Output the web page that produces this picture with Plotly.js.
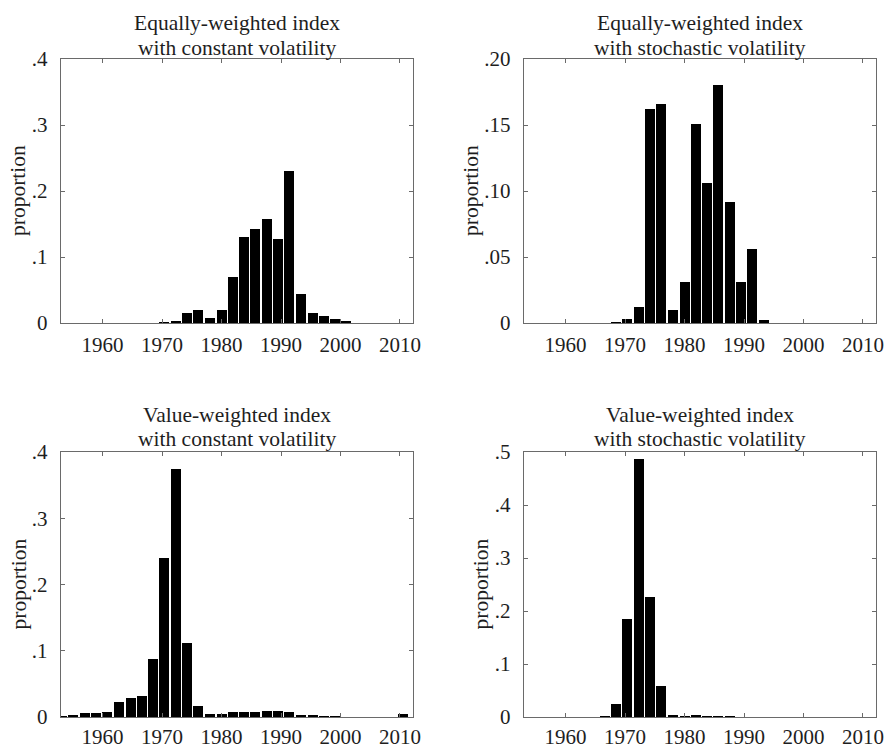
<!DOCTYPE html>
<html>
<head>
<meta charset="utf-8">
<script src="https://cdn.plot.ly/plotly-3.0.1.min.js"></script>
<style>html,body{margin:0;padding:0;background:#fff;}#chart{width:886px;height:748px;}</style>
</head>
<body>
<div id="chart"></div>
<script>
// bin centres (years)
var bins = [1953.2, 1955.1, 1957.0, 1958.9, 1960.8, 1962.8, 1964.7, 1966.6, 1968.5, 1970.4,
            1972.3, 1974.2, 1976.1, 1978.1, 1980.0, 1981.9, 1983.8, 1985.7, 1987.6, 1989.5,
            1991.4, 1993.4, 1995.3, 1997.2, 1999.1, 2001.0, 2002.9, 2004.8, 2006.7, 2008.6, 2010.6];

var ewConst = [0, 0, 0, 0, 0, 0, 0, 0, 0, 0.0008,
               0.003, 0.015, 0.020, 0.008, 0.020, 0.069, 0.131, 0.142, 0.157, 0.127,
               0.231, 0.044, 0.015, 0.011, 0.006, 0.003, 0, 0, 0, 0, 0];

var ewStoch = [0, 0, 0, 0, 0, 0, 0, 0, 0.001, 0.003,
               0.012, 0.162, 0.166, 0.010, 0.031, 0.151, 0.106, 0.180, 0.092, 0.031,
               0.056, 0.002, 0, 0, 0, 0, 0, 0, 0, 0, 0];

var vwConst = [0.002, 0.003, 0.006, 0.006, 0.008, 0.022, 0.028, 0.032, 0.088, 0.240,
               0.374, 0.112, 0.016, 0.005, 0.005, 0.007, 0.008, 0.007, 0.009, 0.009,
               0.007, 0.003, 0.003, 0.002, 0.002, 0, 0, 0, 0, 0, 0.004];

var vwStoch = [0, 0, 0, 0, 0, 0, 0, 0.001, 0.025, 0.184,
               0.487, 0.227, 0.058, 0.003, 0.002, 0.003, 0.002, 0.0015, 0.001, 0,
               0, 0, 0, 0, 0, 0, 0, 0, 0, 0, 0];

var xTickVals = [1960, 1970, 1980, 1990, 2000, 2010];
var xTickText = ["1960", "1970", "1980", "1990", "2000", "2010"];

var yTickVals4 = [0, 0.1, 0.2, 0.3, 0.4];
var yTickText4 = ["0", ".1", ".2", ".3", ".4"];
var yTickVals2 = [0, 0.05, 0.10, 0.15, 0.20];
var yTickText2 = ["0", ".05", ".10", ".15", ".20"];
var yTickVals5 = [0, 0.1, 0.2, 0.3, 0.4, 0.5];
var yTickText5 = ["0", ".1", ".2", ".3", ".4", ".5"];

var titleLine1 = ["Equally-weighted index", "Equally-weighted index",
                  "Value-weighted index", "Value-weighted index"];
var titleLine2 = ["with constant volatility", "with stochastic volatility",
                  "with constant volatility", "with stochastic volatility"];
var yLabel = "proportion";

var W = 886, H = 748;
var FONT = "Liberation Serif, Times New Roman, serif";
var TXT = "#1e1e1e";
var LINE = "#6a6a6a";

var series = [ewConst, ewStoch, vwConst, vwStoch];
var traces = series.map(function (s, i) {
  var n = i === 0 ? "" : String(i + 1);
  return {
    type: "bar", x: bins, y: s, width: 1.68,
    xaxis: "x" + n, yaxis: "y" + n,
    marker: {color: "#000", line: {width: 0}},
    hoverinfo: "x+y", showlegend: false
  };
});

// plot frames in pixels
var colsPx = [[61, 413], [524, 876]];
var rowsPx = [[59, 323], [452, 717]];
// title line centres in pixels from the top, per row
var titleY = [[23.5, 48], [414.5, 439]];
var xStandoff = [2, 0];

function xax(col, row) {
  return {
    domain: [colsPx[col][0] / W, colsPx[col][1] / W],
    range: [1953, 2012.2],
    tickvals: xTickVals, ticktext: xTickText,
    ticks: "inside", ticklen: 4, tickcolor: LINE, tickwidth: 1,
    showline: true, linecolor: LINE, linewidth: 1.3, mirror: "ticks",
    showgrid: false, zeroline: false,
    tickfont: {family: FONT, size: 21, color: TXT},
    ticklabelstandoff: xStandoff[row], fixedrange: true
  };
}
function yax(row, vals, text, top, xname) {
  return {
    domain: [1 - rowsPx[row][1] / H, 1 - rowsPx[row][0] / H],
    range: [0, top], anchor: xname,
    tickvals: vals, ticktext: text,
    ticks: "inside", ticklen: 4, tickcolor: LINE, tickwidth: 1,
    showline: true, linecolor: LINE, linewidth: 1.3, mirror: "ticks",
    showgrid: false, zeroline: false,
    tickfont: {family: FONT, size: 21, color: TXT},
    ticklabelstandoff: 8, fixedrange: true
  };
}

var layout = {
  width: W, height: H,
  margin: {l: 0, r: 0, t: 0, b: 0},
  paper_bgcolor: "#fff", plot_bgcolor: "#fff",
  bargap: 0,
  xaxis: Object.assign(xax(0, 0), {anchor: "y"}),
  yaxis: yax(0, yTickVals4, yTickText4, 0.4, "x"),
  xaxis2: Object.assign(xax(1, 0), {anchor: "y2"}),
  yaxis2: yax(0, yTickVals2, yTickText2, 0.2, "x2"),
  xaxis3: Object.assign(xax(0, 1), {anchor: "y3"}),
  yaxis3: yax(1, yTickVals4, yTickText4, 0.4, "x3"),
  xaxis4: Object.assign(xax(1, 1), {anchor: "y4"}),
  yaxis4: yax(1, yTickVals5, yTickText5, 0.5, "x4"),
  annotations: []
};

var yLabelX = [[18, 471], [18, 480]];
for (var r = 0; r < 2; r++) {
  for (var c = 0; c < 2; c++) {
    var idx = r * 2 + c;
    var cx = (colsPx[c][0] + colsPx[c][1]) / 2;
    [titleLine1[idx], titleLine2[idx]].forEach(function (t, li) {
      layout.annotations.push({
        text: t, xref: "paper", yref: "paper",
        x: cx / W, y: 1 - titleY[r][li] / H,
        xanchor: "center", yanchor: "middle", showarrow: false,
        font: {family: FONT, size: 21.5, color: TXT}
      });
    });
    layout.annotations.push({
      text: yLabel, xref: "paper", yref: "paper",
      x: yLabelX[r][c] / W, y: 1 - (rowsPx[r][0] + rowsPx[r][1]) / 2 / H,
      xanchor: "center", yanchor: "middle", textangle: -90, showarrow: false,
      font: {family: FONT, size: 21.5, color: TXT}
    });
  }
}

Plotly.newPlot("chart", traces, layout, {staticPlot: true, displayModeBar: false});
</script>
</body>
</html>
